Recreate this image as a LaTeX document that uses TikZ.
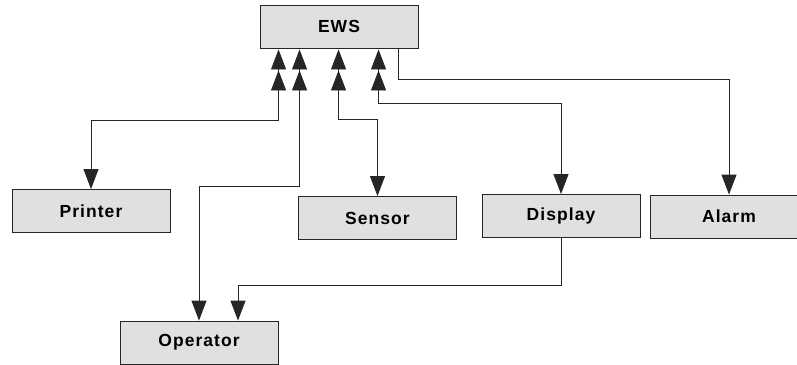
\documentclass[tikz,border=0pt]{standalone}
\usepackage{fontspec}
\setmainfont{Liberation Sans}[LetterSpace=6]
\usetikzlibrary{arrows.meta}
\tikzset{
  unit/.style={draw=black!85, line width=0.9pt, fill=black!12,
    minimum width=158pt, minimum height=43pt, inner sep=0pt,
    font=\fontsize{17.5}{20}\selectfont\bfseries},
  link/.style={draw=black!85, line width=0.9pt},
  twoway/.style={link,
    {Triangle[width=15pt,length=20pt,sep=1pt] Triangle[width=15pt,length=20pt,sep=1pt]}-{Triangle[width=15pt,length=20pt]}},
  oneway/.style={link, -{Triangle[width=15pt,length=20pt]}}
}
\begin{document}
\begin{tikzpicture}[x=1pt,y=-1pt]
  \useasboundingbox (0,0) rectangle (797,364);

  % units
  \node[unit] (EWS)      at (339,26.5)  {EWS};
  \node[unit] (Printer)  at (91,211)    {Printer};
  \node[unit] (Sensor)   at (377.5,218) {Sensor};
  \node[unit] (Display)  at (561,216)   {Display};
  \node[unit] (Alarm)    at (729,216.5) {Alarm};
  \node[unit] (Operator) at (199,342.5) {Operator};

  % links from the workstation
  \draw[twoway] ([xshift=19pt]EWS.south west)  -- ++(0,72)  -| (Printer.north);
  \draw[twoway] ([xshift=40pt]EWS.south west)  -- ++(0,138) -| (Operator.north);
  \draw[twoway] ([xshift=79pt]EWS.south west)  -- ++(0,71)  -| (Sensor.north);
  \draw[twoway] ([xshift=119pt]EWS.south west) -- ++(0,55)  -| (Display.north);
  \draw[oneway] ([xshift=139pt]EWS.south west) -- ++(0,31)  -| (Alarm.north);

  % display to operator
  \draw[oneway] (Display.south) -- ++(0,47) -| ([xshift=39pt]Operator.north);
\end{tikzpicture}
\end{document}
